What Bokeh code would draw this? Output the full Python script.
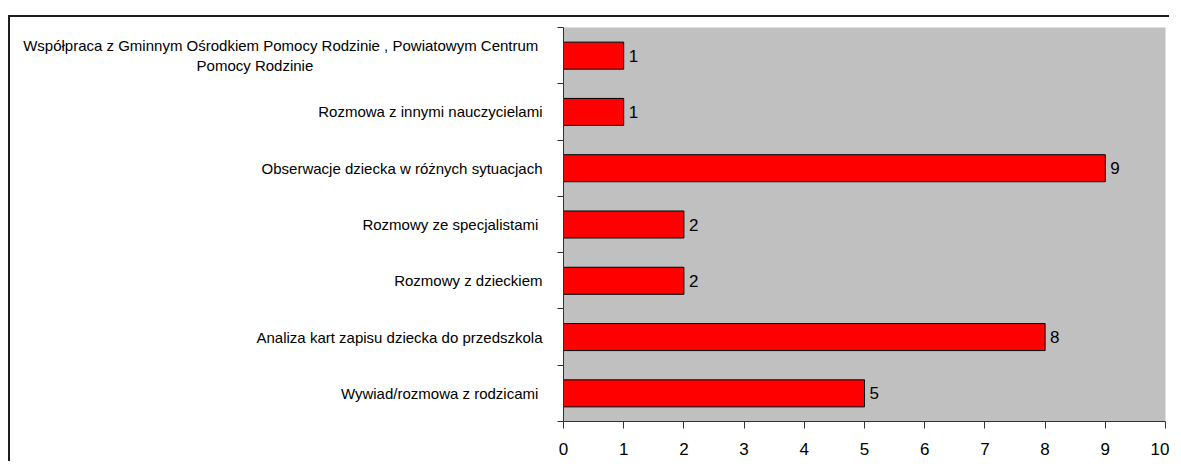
from bokeh.plotting import figure
from bokeh.models import ColumnDataSource, FixedTicker, Range1d
from bokeh.core.properties import value
from bokeh.embed import file_html
from bokeh.resources import INLINE

NB = "\u00a0"
categories = [
    "Współpraca z Gminnym Ośrodkiem Pomocy Rodzinie ,  Powiatowym Centrum\nPomocy Rodzinie" + NB * 55,
    "Rozmowa z innymi nauczycielami",
    "Obserwacje dziecka w różnych sytuacjach",
    "Rozmowy ze specjalistami ",
    "Rozmowy z dzieckiem",
    "Analiza kart zapisu dziecka do przedszkola",
    "Wywiad/rozmowa  z rodzicami",
]
values = [1, 1, 9, 2, 2, 8, 5]
x_ticks = [0, 1, 2, 3, 4, 5, 6, 7, 8, 9, 10]

n = len(categories)
ypos = [n - 1 - i + 0.5 for i in range(n)]
src = ColumnDataSource(dict(y=ypos, v=values, lab=[str(v) for v in values]))

p = figure(width=1161, height=446, output_backend="svg", toolbar_location=None,
           x_range=Range1d(0, 10), y_range=Range1d(0, n),
           min_border_left=553, min_border_top=10, min_border_right=6, min_border_bottom=42)
p.background_fill_color = "#C0C0C0"
p.outline_line_color = None
p.xgrid.visible = False
p.ygrid.visible = False
p.styles = {"border-top": "2px solid #1e1e1e", "border-left": "2px solid #1e1e1e",
            "margin-top": "15px", "margin-left": "8px"}

p.hbar(y="y", right="v", left=0, height=0.48, source=src,
       fill_color="#FF0000", line_color="black", line_width=1)
p.text(x="v", y="y", text="lab", source=src, x_offset=5,
       text_baseline="middle", text_align="left", text_font_size="17px",
       text_font=value("Liberation Sans"), text_color="black")

p.xaxis.ticker = FixedTicker(ticks=x_ticks)
p.xaxis.axis_line_color = "#333333"
p.xaxis.major_tick_line_color = "#333333"
p.xaxis.major_tick_out = 7
p.xaxis.major_tick_in = 0
p.xaxis.minor_tick_line_color = None
p.xaxis.major_label_text_font = "Liberation Sans"
p.xaxis.major_label_text_font_size = "17px"
p.xaxis.major_label_text_color = "black"
p.xaxis.major_label_standoff = 14

p.yaxis.ticker = FixedTicker(ticks=ypos, minor_ticks=list(range(n + 1)))
p.yaxis.major_label_overrides = {y: c for y, c in zip(ypos, categories)}
p.yaxis.axis_line_color = "#333333"
p.yaxis.major_tick_line_color = None
p.yaxis.major_tick_out = 0
p.yaxis.major_tick_in = 0
p.yaxis.minor_tick_line_color = "#333333"
p.yaxis.minor_tick_out = 6
p.yaxis.minor_tick_in = 0
p.yaxis.major_label_text_font = "Liberation Sans"
p.yaxis.major_label_text_font_size = "15px"
p.yaxis.major_label_text_color = "black"
p.yaxis.major_label_standoff = 15

open("out.html", "w").write(file_html(p, INLINE))
